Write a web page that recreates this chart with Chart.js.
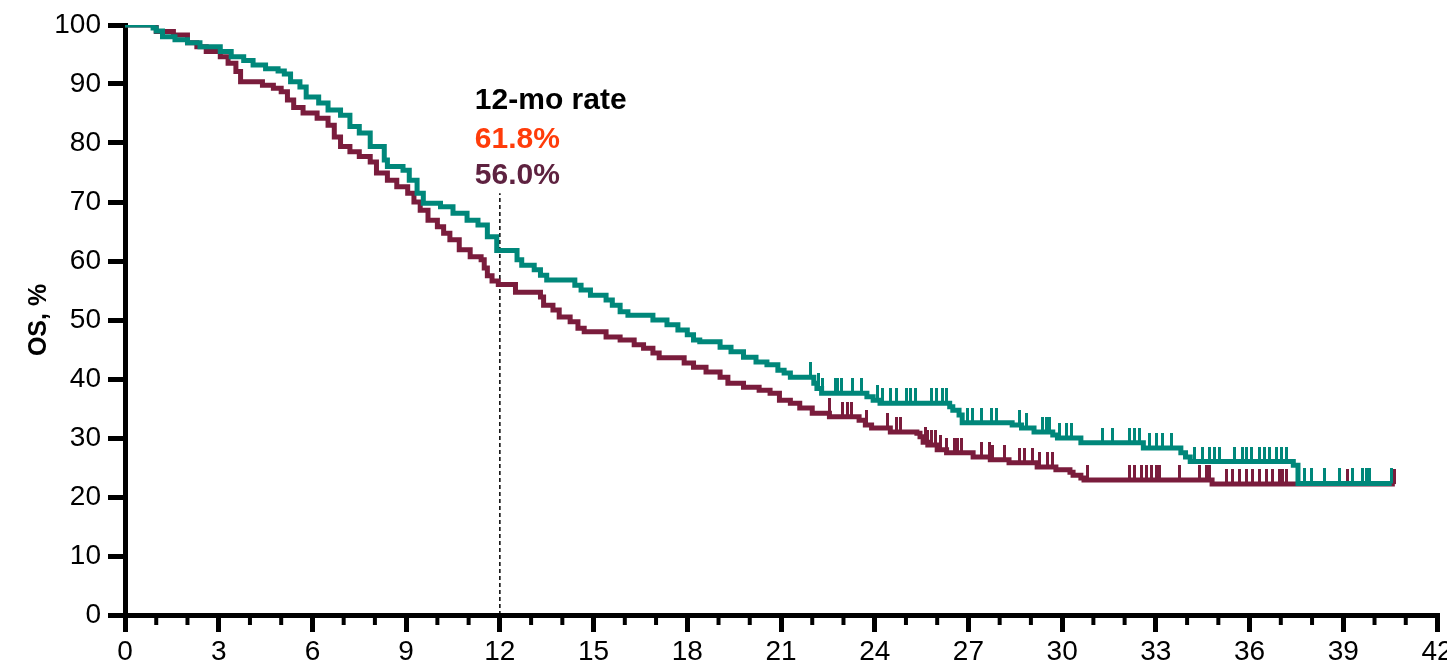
<!DOCTYPE html>
<html>
<head>
<meta charset="utf-8">
<script src="https://cdn.jsdelivr.net/npm/chart.js@4.4.0/dist/chart.umd.min.js"></script>
<style>
  html, body { margin: 0; padding: 0; background: #fff; }
  #wrap { width: 1447px; height: 667px; position: relative; }
</style>
</head>
<body>
<div id="wrap"><canvas id="km"></canvas></div>
<script>
// teal arm: step times (months) and OS (%)
var tealTime = [0, 0.9, 1.0, 1.2, 1.6, 2.0, 2.4, 3.05, 3.4, 3.8, 4.1, 4.5, 4.9, 5.1, 5.3, 5.6, 5.8, 6.2, 6.5, 6.9, 7.2, 7.5, 7.85, 8.3, 8.4, 8.9, 9.1, 9.35, 9.55, 10.1, 10.5, 10.95, 11.3, 11.6, 11.9,
  12.55, 12.7, 13.1, 13.3, 13.5, 14.4, 14.6, 14.9, 15.4, 15.6, 15.85, 16.1, 16.9, 17.35, 17.7, 18.0, 18.2, 18.4, 19.05, 19.4, 19.8, 20.2, 20.55, 20.9, 21.1, 21.3,
  22.05, 22.15, 22.3, 23.75, 23.95, 24.17, 26.4, 26.5, 26.7, 26.8, 28.4, 28.7, 29.1, 29.7, 29.85, 30.6, 32.6, 33.8, 33.95, 34.1, 37.4, 37.55, 40.55];
var tealOS = [100, 99.5, 99, 98, 97.5, 97, 96.3, 95.5, 94.6, 94, 93.2, 92.6, 92.2, 91.7, 90.4, 89.5, 87.8, 86.8, 85.6, 84.7, 82.8, 81.7, 79.4, 77.1, 76, 75.4, 73.7, 71.5, 69.8, 69.2, 68.1, 66.9, 66.1, 64.1, 61.8,
  60.2, 59.3, 58.5, 57.6, 56.8, 55.9, 55.1, 54.2, 53.4, 52.5, 51.4, 50.8, 50, 49.2, 48.3, 47.5, 46.6, 46.3, 45.4, 44.6, 43.7, 42.9, 42.4, 41.5, 41, 40.3,
  39.3, 38.4, 37.6, 37, 36.4, 35.9, 35.3, 34.7, 33.9, 32.6, 32.2, 31.7, 31, 30.5, 30, 29.2, 28.3, 27.5, 26.8, 26, 25.4, 22.3, 22.3];

// maroon arm
var maroonTime = [0, 1.0, 1.55, 2.0, 2.3, 2.6, 3.05, 3.3, 3.55, 3.7, 4.4, 4.75, 5.0, 5.2, 5.4, 5.7, 6.15, 6.5, 6.7, 6.9, 7.2, 7.5, 7.85, 8.05, 8.4, 8.7, 9.05, 9.25, 9.45, 9.7, 10.0,
  10.2, 10.4, 10.7, 11.05, 11.4, 11.5, 11.6, 11.75, 11.95, 12.5, 13.3, 13.4, 13.7, 13.9, 14.25, 14.5, 14.7, 15.4, 15.85, 16.3, 16.6, 16.9, 17.1, 17.9, 18.2, 18.6,
  19.05, 19.3, 19.8, 20.3, 20.65, 20.95, 21.3, 21.6, 22.0, 22.55, 23.5, 23.7, 23.9, 24.5, 25.35, 25.45, 25.55, 25.7, 26.0, 26.3, 27.15, 27.7, 28.3, 29.2, 29.8,
  30.25, 30.35, 30.6, 30.7, 34.8, 40.65];
var maroonOS = [100, 98.9, 98.3, 97, 96.3, 95.5, 94.6, 93.5, 92.1, 90.4, 89.8, 89.3, 88.7, 87.3, 86, 85.1, 84.2, 83, 81, 79.4, 78.5, 77.7, 76.8, 74.9, 73.7, 72.6, 71.5, 70, 68.6, 66.9, 65.8,
  64.7, 63.6, 61.9, 60.7, 60.2, 58.8, 57.5, 56.6, 56, 54.7, 53.9, 52.5, 51.7, 50.5, 49.7, 48.6, 48, 47.1, 46.6, 45.8, 45.2, 44.4, 43.6, 42.7, 42, 41.2,
  40.3, 39.3, 38.6, 38.1, 37.6, 36.4, 35.9, 35.1, 34.2, 33.6, 33, 32.2, 31.7, 31, 30.8, 30.2, 29.3, 28.8, 28, 27.5, 26.8, 26.3, 25.8, 25.1, 24.6,
  24.2, 23.7, 23.2, 22.9, 22.2, 22.2];

// censored times
var tealCensor = [21.93, 22.19, 22.34, 22.73, 22.82, 22.95, 23.3, 23.59, 24.1, 24.26, 24.49, 24.71, 25.03, 25.16, 25.29, 25.83, 25.99, 26.18, 26.31, 26.98, 27.14, 27.43, 27.75, 27.91,
  28.64, 28.87, 29.38, 29.51, 29.61, 29.93, 30.15, 30.31, 31.3, 31.62, 32.17, 32.33, 32.49, 32.81, 33.03, 33.22, 33.51, 34.24, 34.5, 34.72, 34.88, 35.04, 35.52, 35.78, 35.91,
  36.07, 36.32, 36.48, 36.64, 36.87, 37.03, 37.19, 37.76, 37.99, 38.4, 38.88, 39.3, 39.62, 39.75, 39.84, 40.55];
var maroonCensor = [22.54, 22.98, 23.14, 23.27, 23.75, 24.42, 24.71, 24.81, 25.61, 25.7, 25.83, 25.93, 26.09, 26.31, 26.57, 26.66, 26.79, 27.43, 27.69, 27.78, 28.17, 28.65, 28.81,
  29.06, 29.29, 29.54, 29.7, 30.82, 32.17, 32.33, 32.55, 32.71, 32.87, 33.03, 33.13, 33.76, 34.4, 34.63, 34.72, 35.26, 35.45, 35.68, 35.91, 36.1, 36.32, 36.55, 36.74, 36.97,
  37.06, 37.19, 39.14, 39.62, 39.75, 39.84, 40.65];

var xTicks = [0, 3, 6, 9, 12, 15, 18, 21, 24, 27, 30, 33, 36, 39, 42];
var rateLabels = ['12-mo rate', '61.8%', '56.0%'];

var teal = '#00877a';
var maroon = '#7a1c3c';

function toXY(t, v) {
  return t.map(function(e, i) { return {x: e, y: v[i]}; });
}

// value of the step curve at time t
function osAt(t, times, vals) {
  var v = vals[0];
  for (var i = 0; i < times.length; i++) {
    if (times[i] <= t) v = vals[i];
  }
  return v;
}

function censorXY(c, times, vals) {
  return c.map(function(e) { return {x: e, y: osAt(e, times, vals)}; });
}

// small upward tick used as censor mark
function tickMark(color) {
  var c = document.createElement('canvas');
  c.width = 3;
  c.height = 30;
  var g = c.getContext('2d');
  g.fillStyle = color;
  g.fillRect(0, 0, 3, 15);
  return c;
}

var minorTicks = {
  id: 'minorTicks',
  afterDraw: function(chart) {
    var xs = chart.scales.x;
    var ctx = chart.ctx;
    var b = chart.chartArea.bottom;
    ctx.save();
    ctx.strokeStyle = '#000';
    ctx.lineWidth = 4;
    for (var m = 0; m <= 42; m++) {
      if (m % 3 === 0) continue;
      var px = xs.getPixelForValue(m);
      ctx.beginPath();
      ctx.moveTo(px, b);
      ctx.lineTo(px, b + 10);
      ctx.stroke();
    }
    ctx.restore();
  }
};

var rateText = {
  id: 'rateText',
  afterDatasetsDraw: function(chart) {
    var xs = chart.scales.x, ys = chart.scales.y;
    var ctx = chart.ctx;
    var cols = ['#000000', '#ff3c0a', '#5e2240'];
    var lvl = [87.1, 80.6, 74.4];
    ctx.save();
    ctx.font = 'bold 30px "Liberation Sans", Arial, sans-serif';
    ctx.textBaseline = 'middle';
    ctx.textAlign = 'left';
    for (var i = 0; i < rateLabels.length; i++) {
      ctx.fillStyle = cols[i];
      ctx.fillText(rateLabels[i], xs.getPixelForValue(11.2), ys.getPixelForValue(lvl[i]));
    }
    ctx.restore();
  }
};

var ctx = document.getElementById('km');
var myChart = new Chart(ctx, {
  type: 'line',
  data: {
    datasets: [{
      label: 'teal',
      data: toXY(tealTime, tealOS),
      stepped: true,
      borderColor: teal,
      borderWidth: 5,
      pointRadius: 0,
      fill: false
    }, {
      label: 'teal censored',
      type: 'scatter',
      data: censorXY(tealCensor, tealTime, tealOS),
      pointStyle: tickMark(teal),
      pointRadius: 3,
      showLine: false
    }, {
      label: 'maroon',
      data: toXY(maroonTime, maroonOS),
      stepped: true,
      borderColor: maroon,
      borderWidth: 5,
      pointRadius: 0,
      fill: false
    }, {
      label: 'maroon censored',
      type: 'scatter',
      data: censorXY(maroonCensor, maroonTime, maroonOS),
      pointStyle: tickMark(maroon),
      pointRadius: 3,
      showLine: false
    }, {
      label: '12 mo',
      data: [{x: 12, y: 0}, {x: 12, y: 71.5}],
      borderColor: '#000',
      borderWidth: 1.5,
      borderDash: [4, 3],
      pointRadius: 0
    }]
  },
  options: {
    responsive: true,
    maintainAspectRatio: false,
    animation: false,
    layout: { padding: { top: 25, left: 0, right: 0, bottom: 0 } },
    plugins: {
      legend: { display: false },
      tooltip: { enabled: false }
    },
    scales: {
      x: {
        type: 'linear',
        min: 0,
        max: 42,
        afterBuildTicks: function(s) { s.ticks = xTicks.map(function(v) { return {value: v}; }); },
        afterFit: function(s) { s.height = 52; s.paddingRight = 10; },
        grid: { drawOnChartArea: false, color: '#000', lineWidth: 5, tickLength: 17 },
        border: { color: '#000', width: 5 },
        ticks: {
          color: '#000',
          padding: 3,
          maxRotation: 0,
          autoSkip: false,
          font: { family: '"Liberation Sans", Arial, sans-serif', size: 28 }
        }
      },
      y: {
        min: 0,
        max: 100,
        afterFit: function(s) { s.width = 125; },
        grid: { drawOnChartArea: false, color: '#000', lineWidth: 5, tickLength: 17 },
        border: { color: '#000', width: 5 },
        ticks: {
          stepSize: 10,
          color: '#000',
          padding: 7,
          font: { family: '"Liberation Sans", Arial, sans-serif', size: 28 }
        },
        title: {
          display: true,
          text: 'OS, %',
          color: '#000',
          font: { family: '"Liberation Sans", Arial, sans-serif', size: 25, weight: 'bold' },
          padding: { top: 24, bottom: 0 }
        }
      }
    }
  },
  plugins: [minorTicks, rateText]
});
</script>
</body>
</html>
